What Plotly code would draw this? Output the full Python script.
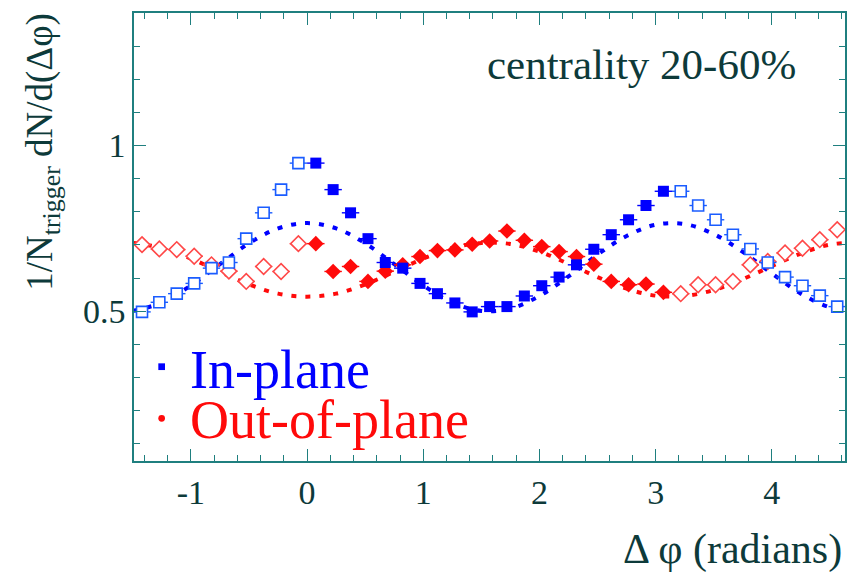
import plotly.graph_objects as go

# ---------------- data ----------------
phi_bins = [0.075, 0.224, 0.374, 0.524, 0.673, 0.823, 0.972, 1.122, 1.272, 1.421, 1.571,
            1.720, 1.870, 2.020, 2.169, 2.319, 2.468, 2.618, 2.767, 2.917, 3.067]
in_plane = [0.947, 0.867, 0.797, 0.719, 0.647, 0.630, 0.584, 0.553, 0.525, 0.498, 0.514,
            0.514, 0.546, 0.577, 0.603, 0.640, 0.687, 0.731, 0.776, 0.819, 0.862]
out_plane = [0.704, 0.620, 0.635, 0.590, 0.621, 0.640, 0.665, 0.683, 0.685, 0.702, 0.712,
             0.742, 0.714, 0.695, 0.680, 0.665, 0.642, 0.590, 0.580, 0.582, 0.557]

# reflected (open-symbol) points
phi_refl = [-1.421, -1.272, -1.122, -0.972, -0.823, -0.673, -0.524, -0.374, -0.224, -0.075,
            3.216, 3.366, 3.516, 3.665, 3.815, 3.965, 4.114, 4.264, 4.413, 4.563]
in_plane_refl = [0.498, 0.527, 0.553, 0.584, 0.630, 0.647, 0.719, 0.797, 0.867, 0.947,
                 0.862, 0.819, 0.776, 0.731, 0.688, 0.647, 0.603, 0.577, 0.547, 0.514]
out_plane_refl = [0.701, 0.688, 0.686, 0.666, 0.640, 0.621, 0.590, 0.635, 0.620, 0.704,
                  0.553, 0.580, 0.580, 0.590, 0.640, 0.650, 0.676, 0.690, 0.716, 0.746]

bin_half_width = [0.075] * 21
bin_half_width_refl = [0.075] * 20

# dotted flow-modulated background curves
curve_phi = [-1.5, -1.25, -1.0, -0.75, -0.5, -0.25, 0.0, 0.25, 0.5, 0.75, 1.0, 1.25, 1.5,
             1.75, 2.0, 2.25, 2.5, 2.75, 3.0, 3.25, 3.5, 3.75, 4.0, 4.25, 4.5, 4.75]
in_plane_bg = [0.501, 0.526, 0.578, 0.642, 0.705, 0.750, 0.766, 0.750, 0.705, 0.642, 0.578,
               0.526, 0.501, 0.508, 0.546, 0.605, 0.671, 0.727, 0.761, 0.763, 0.733, 0.679,
               0.614, 0.553, 0.512, 0.500]
out_plane_bg = [0.706, 0.691, 0.659, 0.619, 0.581, 0.553, 0.544, 0.553, 0.581, 0.619, 0.659,
                0.691, 0.706, 0.703, 0.680, 0.643, 0.603, 0.568, 0.547, 0.546, 0.564, 0.597,
                0.636, 0.674, 0.701, 0.708]

x_tickvals = [-1, 0, 1, 2, 3, 4]
x_ticktext = ["-1", "0", "1", "2", "3", "4"]
y_tickvals = [0.5, 1]
y_ticktext = ["0.5", "1"]

# ---------------- style ----------------
FONT = "Liberation Serif, Times New Roman, Tinos, DejaVu Serif, serif"
TXT = "#0d3a3a"
AX = "#1f7f7f"
BLUE = "#0000ff"
BLUE_OPEN = "#1a5cff"
RED = "#ff0a0a"
RED_OPEN = "#ff4848"

fig = go.Figure()

fig.add_trace(go.Scatter(x=curve_phi, y=out_plane_bg, mode="lines", line_shape="spline",
                         line=dict(color=RED, width=4, dash="5px,9px"), showlegend=False))
fig.add_trace(go.Scatter(x=curve_phi, y=in_plane_bg, mode="lines", line_shape="spline",
                         line=dict(color=BLUE, width=4, dash="5px,9px"), showlegend=False))

fig.add_trace(go.Scatter(x=phi_refl, y=out_plane_refl, mode="markers",
                         marker=dict(symbol="diamond", size=12, color="white",
                                     line=dict(color=RED_OPEN, width=1.6)),
                         error_x=dict(type="data", array=bin_half_width_refl, color=RED_OPEN,
                                      thickness=1.4, width=0),
                         showlegend=False))
fig.add_trace(go.Scatter(x=phi_bins, y=out_plane, mode="markers",
                         marker=dict(symbol="diamond", size=12, color=RED,
                                     line=dict(color=RED, width=0)),
                         error_x=dict(type="data", array=bin_half_width, color=RED,
                                      thickness=1.4, width=0),
                         showlegend=False))
fig.add_trace(go.Scatter(x=phi_refl, y=in_plane_refl, mode="markers",
                         marker=dict(symbol="square", size=11, color="white",
                                     line=dict(color=BLUE_OPEN, width=1.6)),
                         error_x=dict(type="data", array=bin_half_width_refl, color=BLUE_OPEN,
                                      thickness=1.4, width=0),
                         showlegend=False))
fig.add_trace(go.Scatter(x=phi_bins, y=in_plane, mode="markers",
                         marker=dict(symbol="square", size=11, color=BLUE,
                                     line=dict(color=BLUE, width=0)),
                         error_x=dict(type="data", array=bin_half_width, color=BLUE,
                                      thickness=1.4, width=0),
                         showlegend=False))

axis_common = dict(showline=True, linecolor=AX, linewidth=1.5, mirror="allticks",
                   ticks="inside", ticklen=12, tickwidth=1.3, tickcolor=AX,
                   showgrid=False, zeroline=False,
                   tickfont=dict(family=FONT, size=34, color=TXT))

fig.update_xaxes(range=[-1.49, 4.63], tickmode="array", tickvals=x_tickvals,
                 ticktext=x_ticktext,
                 minor=dict(dtick=0.2, tick0=0, ticks="inside", ticklen=6, tickcolor=AX,
                            tickwidth=1.2, showgrid=False),
                 **axis_common)
fig.update_yaxes(range=[0.048, 1.40], tickmode="array", tickvals=y_tickvals,
                 ticktext=y_ticktext,
                 minor=dict(dtick=0.1, tick0=0, ticks="inside", ticklen=6, tickcolor=AX,
                            tickwidth=1.2, showgrid=False),
                 **axis_common)

annotations = [
    dict(text="centrality 20-60%", x=0.714, y=0.885, xanchor="center", yanchor="middle",
         font=dict(family=FONT, size=43, color=TXT)),
    dict(text="In-plane", x=0.0757, y=0.2036, xanchor="left", yanchor="middle",
         font=dict(family=FONT, size=54, color=BLUE)),
    dict(text="Out-of-plane", x=0.0757, y=0.0915, xanchor="left", yanchor="middle",
         font=dict(family=FONT, size=54, color=RED)),
    dict(text="Δ φ (radians)", x=0.8415, y=-0.198, xanchor="center", yanchor="middle",
         font=dict(family=FONT, size=42, color=TXT)),
    dict(text="1/N<sub>trigger</sub> dN/d(Δφ)", x=-0.129, y=0.691, xanchor="center",
         yanchor="middle", textangle=-90, font=dict(family=FONT, size=37, color=TXT)),
]
for a in annotations:
    a.update(xref="paper", yref="paper", showarrow=False)

shapes = [
    dict(type="rect", xref="paper", yref="paper", x0=0.0342, x1=0.0436, y0=0.2030, y1=0.2180,
         fillcolor=BLUE, line=dict(width=0)),
    dict(type="circle", xref="paper", yref="paper", x0=0.0342, x1=0.0436, y0=0.0878, y1=0.1028,
         fillcolor=RED, line=dict(width=0)),
]

fig.update_layout(width=852, height=576, margin=dict(l=134, r=5, t=13, b=115),
                  paper_bgcolor="white", plot_bgcolor="white",
                  font=dict(family=FONT),
                  annotations=annotations, shapes=shapes, showlegend=False)

fig.write_html("out.html")
